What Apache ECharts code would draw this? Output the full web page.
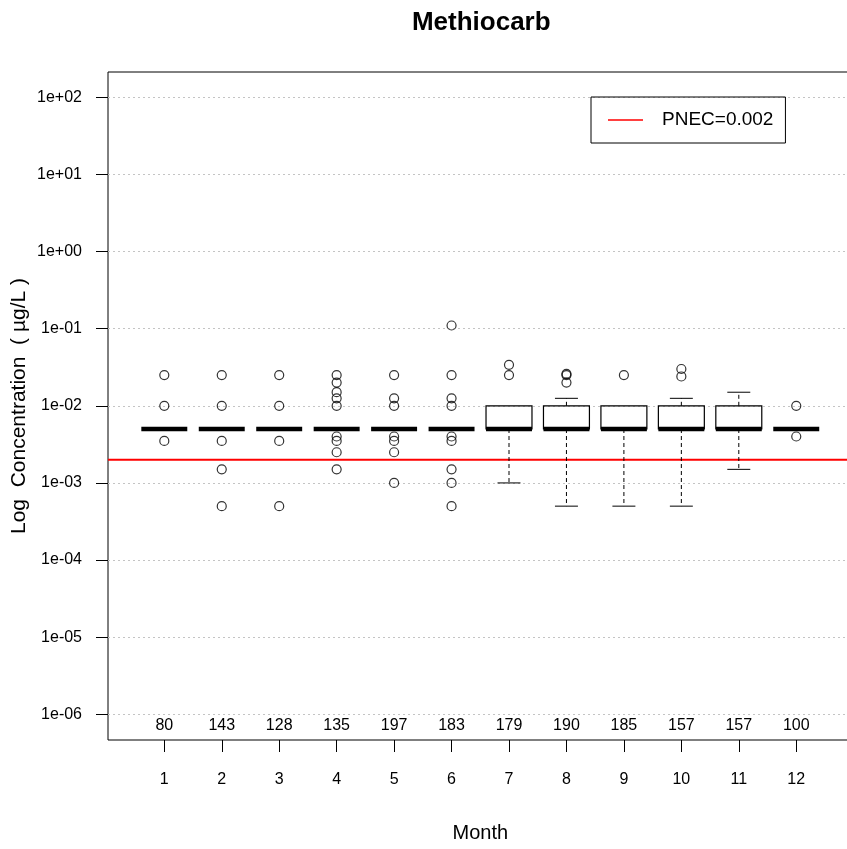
<!DOCTYPE html>
<html><head><meta charset="utf-8">
<script src="https://cdn.jsdelivr.net/npm/echarts@6/dist/echarts.min.js"></script>
<style>html,body{margin:0;padding:0;background:#fff}#c{width:847px;height:849px}</style>
</head><body><div id="c"></div>
<script>
// ---------------- data ----------------
const months = [1, 2, 3, 4, 5, 6, 7, 8, 9, 10, 11, 12];
const counts = [80, 143, 128, 135, 197, 183, 179, 190, 185, 157, 157, 100];
const lowerWhisker = [0.005, 0.005, 0.005, 0.005, 0.005, 0.005, 0.001, 0.0005, 0.0005, 0.0005, 0.0015, 0.005];
const q1 =           [0.005, 0.005, 0.005, 0.005, 0.005, 0.005, 0.005, 0.005, 0.005, 0.005, 0.005, 0.005];
const medians =      [0.005, 0.005, 0.005, 0.005, 0.005, 0.005, 0.005, 0.005, 0.005, 0.005, 0.005, 0.005];
const q3 =           [0.005, 0.005, 0.005, 0.005, 0.005, 0.005, 0.01, 0.01, 0.01, 0.01, 0.01, 0.005];
const upperWhisker = [0.005, 0.005, 0.005, 0.005, 0.005, 0.005, 0.01, 0.0125, 0.01, 0.0125, 0.015, 0.005];
const outliersM1 = [0.025, 0.01, 0.0035];
const outliersM2 = [0.025, 0.01, 0.0035, 0.0015, 0.0005];
const outliersM3 = [0.025, 0.01, 0.0035, 0.0005];
const outliersM4 = [0.025, 0.02, 0.015, 0.0125, 0.01, 0.004, 0.0035, 0.0025, 0.0015];
const outliersM5 = [0.025, 0.0125, 0.01, 0.004, 0.0035, 0.0025, 0.001];
const outliersM6 = [0.11, 0.025, 0.0125, 0.01, 0.004, 0.0035, 0.0015, 0.001, 0.0005];
const outliersM7 = [0.034, 0.025];
const outliersM8 = [0.026, 0.025, 0.02];
const outliersM9 = [0.025];
const outliersM10 = [0.03, 0.024];
const outliersM11 = [];
const outliersM12 = [0.01, 0.004];
const outliersByMonth = [outliersM1, outliersM2, outliersM3, outliersM4, outliersM5, outliersM6,
  outliersM7, outliersM8, outliersM9, outliersM10, outliersM11, outliersM12];
const yTickLabels = ['1e-06', '1e-05', '1e-04', '1e-03', '1e-02', '1e-01', '1e+00', '1e+01', '1e+02'];
const PNEC = 0.002;
const legendLabel = 'PNEC=0.002';
const titleText = 'Methiocarb';
const xTitle = 'Month';
const yTitle = 'Log  Concentration  ( µg/L )';

// ---------------- layout ----------------
const FONT = 'Liberation Sans, Arial, sans-serif';
const L = 108, TOP = 72, BOTTOM = 740;
const unit = 57.45;                 // px per month
const plotW = 12.96 * unit;         // R x range 0.02 .. 12.98
const yDecTop = 97.3, yDecBot = 714.3; // 1e+02 and 1e-06 positions
const perDec = (yDecBot - yDecTop) / 8;
const logMax = 2 + (yDecTop - TOP) / perDec;
const logMin = -6 - (BOTTOM - yDecBot) / perDec;

const outlierData = [];
outliersByMonth.forEach((arr, i) => arr.forEach(v => outlierData.push([months[i], v])));

const chart = echarts.init(document.getElementById('c'), null, {renderer: 'canvas'});
chart.setOption({
  animation: false,
  backgroundColor: '#fff',
  textStyle: {fontFamily: FONT},
  title: {
    text: titleText, left: L + plotW / 2 - 4, textAlign: 'center', top: 5,
    textStyle: {fontSize: 26, fontWeight: 'bold', color: '#000', fontFamily: FONT}
  },
  legend: {
    data: [{name: legendLabel, icon: 'rect'}],
    left: 591, top: 97, orient: 'horizontal',
    borderColor: '#000', borderWidth: 1, borderRadius: 0,
    padding: [13, 12, 13, 17],
    itemWidth: 35, itemHeight: 1.5,
    textStyle: {fontSize: 19, color: '#000', fontFamily: FONT, lineHeight: 20, padding: [0, 0, 0, 14]},
    selectedMode: false
  },
  grid: [
    {left: L, top: TOP, width: plotW, height: BOTTOM - TOP, show: true, borderColor: '#000', borderWidth: 1,
     backgroundColor: 'transparent', outerBoundsMode: 'none', containLabel: false},
    {left: L, top: yDecTop, width: plotW, height: yDecBot - yDecTop, outerBoundsMode: 'none', containLabel: false},
    {left: L + 0.98 * unit, top: TOP, width: 11 * unit, height: BOTTOM - TOP, outerBoundsMode: 'none', containLabel: false}
  ],
  xAxis: [
    {gridIndex: 0, type: 'value', min: 0, max: 1,
     axisLine: {show: false}, axisTick: {show: false}, axisLabel: {show: false}, splitLine: {show: false},
     name: xTitle, nameLocation: 'middle', nameGap: 83,
     nameTextStyle: {fontSize: 20, color: '#000', fontFamily: FONT}},
    {gridIndex: 1, type: 'value', min: 0, max: 1, show: false},
    {gridIndex: 2, type: 'value', min: 1, max: 12, interval: 1,
     axisLine: {show: false},
     axisTick: {show: true, length: 12, lineStyle: {color: '#000', width: 1}},
     axisLabel: {margin: 32, fontSize: 16, color: '#000', fontFamily: FONT},
     splitLine: {show: false}}
  ],
  yAxis: [
    {gridIndex: 0, type: 'value', min: 0, max: 1,
     axisLine: {show: false}, axisTick: {show: false}, axisLabel: {show: false}, splitLine: {show: false},
     name: yTitle, nameLocation: 'middle', nameGap: 78, nameRotate: 90,
     nameTextStyle: {fontSize: 21, color: '#000', fontFamily: FONT}},
    {gridIndex: 1, type: 'log', logBase: 10, min: 1e-6, max: 1e2, splitNumber: 8,
     axisLine: {show: false},
     axisTick: {show: true, length: 12, lineStyle: {color: '#000', width: 1}},
     axisLabel: {margin: 26, fontSize: 16, color: '#000', fontFamily: FONT,
       formatter: v => yTickLabels[Math.round(Math.log10(v)) + 6]},
     splitLine: {show: true, lineStyle: {color: '#c4c4c4', width: 1, type: [2, 3]}}},
    {gridIndex: 2, type: 'log', logBase: 10, min: Math.pow(10, logMin), max: Math.pow(10, logMax), show: false}
  ],
  series: [
    {
      name: legendLabel, type: 'line', xAxisIndex: 1, yAxisIndex: 1, data: [],
      symbol: 'none', color: '#ff0000', lineStyle: {color: '#ff0000', width: 2}
    },
    {
      type: 'custom', xAxisIndex: 1, yAxisIndex: 1, silent: true, clip: false,
      data: [[0.5, PNEC]],
      renderItem(params, api) {
        const cs = params.coordSys;
        const y = api.coord([0.5, api.value(1)])[1];
        return {type: 'line', shape: {x1: cs.x, y1: y, x2: cs.x + cs.width, y2: y},
          style: {stroke: '#ff0000', lineWidth: 2}};
      }
    },
    {
      type: 'custom', xAxisIndex: 2, yAxisIndex: 2, silent: true, clip: false,
      data: months.map((m, i) => [m, lowerWhisker[i], q1[i], medians[i], q3[i], upperWhisker[i]]),
      renderItem(params, api) {
        const m = api.value(0), lo = api.value(1), a = api.value(2), med = api.value(3), b = api.value(4), hi = api.value(5);
        const xc = api.coord([m, med])[0];
        const hw = (api.coord([m + 1, med])[0] - xc) * 0.4;
        const y = v => api.coord([m, v])[1];
        const ch = [];
        const blk = {stroke: '#000', lineWidth: 1, fill: null};
        if (b > a) ch.push({type: 'rect', shape: {x: xc - hw, y: y(b), width: 2 * hw, height: y(a) - y(b)}, style: {fill: 'none', stroke: '#000', lineWidth: 1.2}});
        if (hi > b) {
          ch.push({type: 'line', shape: {x1: xc, y1: y(b), x2: xc, y2: y(hi)}, style: {stroke: '#000', lineWidth: 1, lineDash: [4, 3]}});
          ch.push({type: 'line', shape: {x1: xc - hw / 2, y1: y(hi), x2: xc + hw / 2, y2: y(hi)}, style: blk});
        }
        if (lo < a) {
          ch.push({type: 'line', shape: {x1: xc, y1: y(a), x2: xc, y2: y(lo)}, style: {stroke: '#000', lineWidth: 1, lineDash: [4, 3]}});
          ch.push({type: 'line', shape: {x1: xc - hw / 2, y1: y(lo), x2: xc + hw / 2, y2: y(lo)}, style: blk});
        }
        ch.push({type: 'line', shape: {x1: xc - hw, y1: y(med), x2: xc + hw, y2: y(med)}, style: {stroke: '#000', lineWidth: 4.5}});
        return {type: 'group', children: ch};
      }
    },
    {
      type: 'scatter', xAxisIndex: 2, yAxisIndex: 2, silent: true,
      data: outlierData, symbol: 'circle', symbolSize: 9,
      itemStyle: {color: 'rgba(0,0,0,0)', borderColor: '#000', borderWidth: 1.2}
    },
    {
      type: 'custom', xAxisIndex: 2, yAxisIndex: 2, silent: true, clip: false,
      data: months.map((m, i) => [m, counts[i]]),
      renderItem(params, api) {
        const xc = api.coord([api.value(0), 1])[0];
        return {type: 'text', style: {text: String(api.value(1)), x: xc, y: BOTTOM - 14,
          align: 'center', verticalAlign: 'middle', fontSize: 16, fill: '#000', fontFamily: FONT}};
      }
    }
  ]
});
</script>
</body></html>
